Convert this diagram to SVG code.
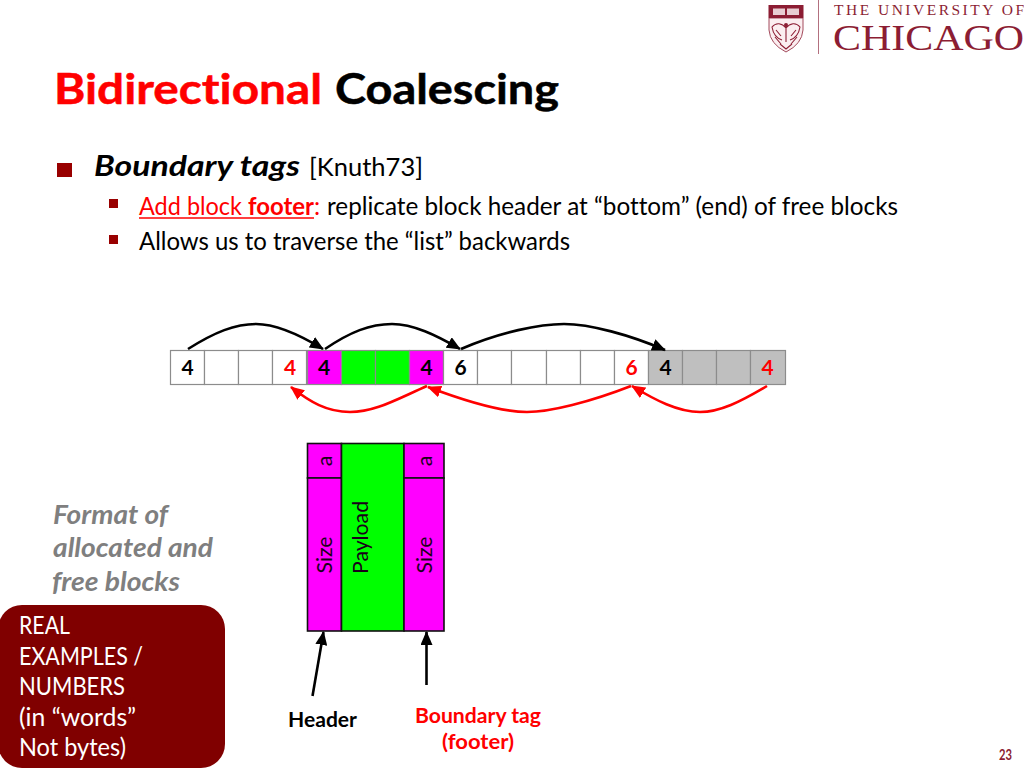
<svg xmlns="http://www.w3.org/2000/svg" width="1024" height="768" viewBox="0 0 1024 768">
<style>
text{font-family:Lato,"Liberation Sans",sans-serif;fill:#000;font-variant-ligatures:none}
.b{font-weight:700}.r{fill:#f00}
.cell{stroke:#8c8c8c;stroke-width:1.2}
.n{font-size:21px;font-weight:700;text-anchor:middle}
.box{stroke:#111;stroke-width:1.6}
.bk{fill:none;stroke:#000;stroke-width:2.6}
.rd{fill:none;stroke:#f00;stroke-width:2.6}
.w{fill:#fff;font-size:24.500px}
.g{fill:#7f7f7f;font-size:27px;font-weight:700;font-style:italic}
.v{font-size:21.500px;text-anchor:middle;fill:#1a001a}
.cr{fill:none;stroke:#8c1d33;stroke-width:1.1}
.serif{font-family:"Liberation Serif",serif;fill:#8c1d33}
</style>
<defs>
<marker id="ab" markerUnits="userSpaceOnUse" markerWidth="14" markerHeight="12" refX="13" refY="6" orient="auto"><path d="M0 0L14 6L0 12z" fill="#000"/></marker>
<marker id="ar" markerUnits="userSpaceOnUse" markerWidth="14" markerHeight="12" refX="13" refY="6" orient="auto"><path d="M0 0L14 6L0 12z" fill="#f00"/></marker>
</defs>
<rect width="1024" height="768" fill="#fff"/>
<g id="logo">
<path d="M769 18V30Q770 44 786 52Q802 44 803 30V18Z" fill="#fbeef0" stroke="#a34a5c" stroke-width="1"/>
<rect x="768.500" y="5" width="35" height="13" fill="#8c1d33"/>
<path d="M773 8.500H785V15H773ZM787 8.500H799V15H787Z" fill="#e8cdd2"/>
<path class="cr" d="M786 26V42M786 28C782 23 776 22 772 27C773 33 776 38 782 40M786 28C790 23 796 22 800 27C799 33 796 38 790 40M776 30L781 36M796 30L791 36M780 44L786 49L792 44M775 37L781 44M797 37L791 44"/>
<circle cx="786" cy="25" r="2" fill="#8c1d33"/>
<line x1="818.500" y1="0" x2="818.500" y2="54" stroke="#b3707f" stroke-width="1"/>
<text x="834" y="15" font-size="15.500" textLength="190" lengthAdjust="spacing" class="serif">THE UNIVERSITY OF</text>
<text x="833" y="49.500" font-size="35" textLength="191" lengthAdjust="spacingAndGlyphs" class="serif">CHICAGO</text>
</g>
<g id="title" stroke-width="0.500">
<text x="54" y="104" font-size="42.500" class="b r" stroke="#f00" textLength="268" lengthAdjust="spacingAndGlyphs">Bidirectional</text>
<text x="335" y="104" font-size="42.500" class="b" stroke="#000" textLength="224" lengthAdjust="spacingAndGlyphs">Coalescing</text>
</g>
<g id="bullets">
<rect x="57" y="163" width="15" height="14" fill="#990000"/>
<text x="94" y="176" font-size="29" class="b" font-style="italic" textLength="206" lengthAdjust="spacingAndGlyphs">Boundary tags</text>
<text x="309" y="176" font-size="25" textLength="114" lengthAdjust="spacingAndGlyphs">[Knuth73]</text>
<rect x="109" y="199" width="9" height="9" fill="#990000"/>
<text x="139" y="215" font-size="24.500" class="r" textLength="103" lengthAdjust="spacingAndGlyphs">Add block</text>
<text x="248" y="215" font-size="24.500" class="b r" textLength="66" lengthAdjust="spacingAndGlyphs">footer</text>
<line x1="139" y1="218" x2="314" y2="218" stroke="#f00" stroke-width="1.500"/>
<text x="314" y="215" font-size="24.500" class="r">:</text>
<text x="327" y="215" font-size="24.500" textLength="571" lengthAdjust="spacingAndGlyphs">replicate block header at “bottom” (end) of free blocks</text>
<rect x="109" y="235" width="9" height="9" fill="#990000"/>
<text x="139" y="250" font-size="24.500" textLength="431" lengthAdjust="spacingAndGlyphs">Allows us to traverse the “list” backwards</text>
</g>
<g id="cells">
<rect class="cell" x="170.500" y="350.500" width="34" height="34" fill="#fff"/>
<rect class="cell" x="204.500" y="350.500" width="34" height="34" fill="#fff"/>
<rect class="cell" x="238.500" y="350.500" width="34" height="34" fill="#fff"/>
<rect class="cell" x="272.500" y="350.500" width="34" height="34" fill="#fff"/>
<rect class="cell" x="307.500" y="350.500" width="34" height="34" fill="#f0f"/>
<rect class="cell" x="341.500" y="350.500" width="34" height="34" fill="#0f0"/>
<rect class="cell" x="375.500" y="350.500" width="34" height="34" fill="#0f0"/>
<rect class="cell" x="409.500" y="350.500" width="34" height="34" fill="#f0f"/>
<rect class="cell" x="443.500" y="350.500" width="34" height="34" fill="#fff"/>
<rect class="cell" x="477.500" y="350.500" width="34" height="34" fill="#fff"/>
<rect class="cell" x="511.500" y="350.500" width="35" height="34" fill="#fff"/>
<rect class="cell" x="546.500" y="350.500" width="34" height="34" fill="#fff"/>
<rect class="cell" x="580.500" y="350.500" width="34" height="34" fill="#fff"/>
<rect class="cell" x="614.500" y="350.500" width="34" height="34" fill="#fff"/>
<rect class="cell" x="648.500" y="350.500" width="34" height="34" fill="#bfbfbf"/>
<rect class="cell" x="682.500" y="350.500" width="34" height="34" fill="#bfbfbf"/>
<rect class="cell" x="716.500" y="350.500" width="34" height="34" fill="#bfbfbf"/>
<rect class="cell" x="750.500" y="350.500" width="35" height="34" fill="#bfbfbf"/>
<text class="n" x="187.500" y="375">4</text>
<text class="n r" x="290" y="375">4</text>
<text class="n" x="324" y="375">4</text>
<text class="n" x="426.500" y="375">4</text>
<text class="n" x="460.500" y="375">6</text>
<text class="n r" x="631.500" y="375">6</text>
<text class="n" x="665.500" y="375">4</text>
<text class="n r" x="767.500" y="375">4</text>
</g>
<g id="connectors">
<path class="bk" marker-end="url(#ab)" d="M188 349C215 332 235 324 256 324C277 324 300 335 323 349"/>
<path class="bk" marker-end="url(#ab)" d="M325 349C350 332 370 324 392 324C413 324 436 335 460 349"/>
<path class="bk" marker-end="url(#ab)" d="M461 349C500 332 540 324 564 324C590 324 630 335 665 350"/>
<path class="rd" marker-end="url(#ar)" d="M427 386C395 400 375 412 350 412C327 412 310 402 291 387"/>
<path class="rd" marker-end="url(#ar)" d="M631 386C590 402 550 412 527 412C500 412 465 401 428 387"/>
<path class="rd" marker-end="url(#ar)" d="M767 386C740 402 720 412 700 412C678 412 655 400 632 386"/>
<path class="bk" marker-end="url(#ab)" d="M312.500 696L323.500 632"/>
<path class="bk" marker-end="url(#ab)" d="M426.500 685V632"/>
</g>
<g id="block-format">
<rect class="box" x="307.500" y="443.500" width="34" height="34.500" fill="#f0f"/>
<rect class="box" x="307.500" y="478" width="34" height="153" fill="#f0f"/>
<rect class="box" x="341.500" y="443.500" width="62.500" height="187.500" fill="#0f0"/>
<rect class="box" x="404" y="443.500" width="40" height="34.500" fill="#f0f"/>
<rect class="box" x="404" y="478" width="40" height="153" fill="#f0f"/>
<text class="v" transform="translate(332 461) rotate(-90)">a</text>
<text class="v" transform="translate(332 555) rotate(-90)" textLength="37" lengthAdjust="spacingAndGlyphs">Size</text>
<text class="v" transform="translate(368 537.500) rotate(-90)" textLength="73" lengthAdjust="spacingAndGlyphs">Payload</text>
<text class="v" transform="translate(432 461) rotate(-90)">a</text>
<text class="v" transform="translate(432 555) rotate(-90)" textLength="37" lengthAdjust="spacingAndGlyphs">Size</text>
</g>
<g id="labels">
<text x="288" y="727" font-size="21" class="b" textLength="69" lengthAdjust="spacingAndGlyphs">Header</text>
<text x="415" y="723" font-size="21" class="b r" textLength="126" lengthAdjust="spacingAndGlyphs">Boundary tag</text>
<text x="442" y="749" font-size="21" class="b r" textLength="72" lengthAdjust="spacingAndGlyphs">(footer)</text>
<text x="999" y="760" font-size="15" class="b" textLength="13" lengthAdjust="spacingAndGlyphs" style="fill:#8c1d33">23</text>
</g>
<g id="format-label">
<text class="g" x="53" y="524" textLength="115" lengthAdjust="spacingAndGlyphs">Format of</text>
<text class="g" x="53" y="557" textLength="160" lengthAdjust="spacingAndGlyphs">allocated and</text>
<text class="g" x="52" y="591" textLength="128" lengthAdjust="spacingAndGlyphs">free blocks</text>
</g>
<g id="callout">
<rect x="-2" y="605" width="227" height="163" rx="24" fill="#800000"/>
<text class="w" x="19" y="634" textLength="51" lengthAdjust="spacingAndGlyphs">REAL</text>
<text class="w" x="19" y="665" textLength="124" lengthAdjust="spacingAndGlyphs">EXAMPLES /</text>
<text class="w" x="19" y="695" textLength="106" lengthAdjust="spacingAndGlyphs">NUMBERS</text>
<text class="w" x="19" y="726" textLength="117" lengthAdjust="spacingAndGlyphs">(in “words”</text>
<text class="w" x="19" y="756" textLength="107" lengthAdjust="spacingAndGlyphs">Not bytes)</text>
</g>
</svg>
